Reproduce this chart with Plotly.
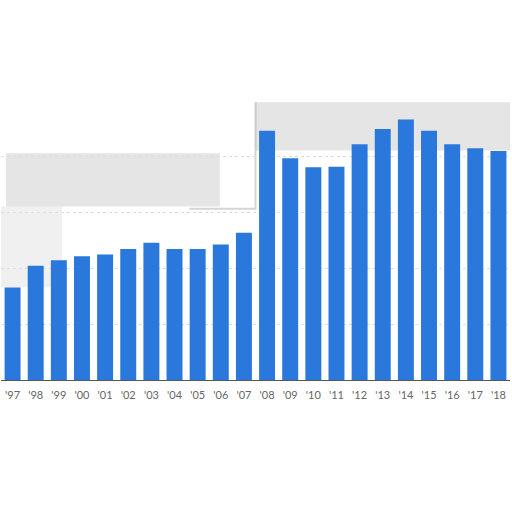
import plotly.graph_objects as go

years = ["'97", "'98", "'99", "'00", "'01", "'02", "'03", "'04", "'05", "'06", "'07",
         "'08", "'09", "'10", "'11", "'12", "'13", "'14", "'15", "'16", "'17", "'18"]
values = [16.5, 20.4, 21.4, 22.1, 22.4, 23.4, 24.5, 23.4, 23.4, 24.2, 26.3,
          44.5, 39.6, 38.0, 38.1, 42.1, 44.8, 46.5, 44.5, 42.1, 41.4, 40.9]

fig = go.Figure()
fig.add_bar(x=years, y=values, marker=dict(color="#2a78db", line=dict(width=0)))

# greyed-out blur regions behind the bars
smudge = "rgba(160,160,160,0.28)"
fig.add_shape(type="rect", xref="paper", yref="y", x0=0.01, x1=0.43, y0=31.0, y1=40.5,
              fillcolor=smudge, line=dict(width=0), layer="below")
fig.add_shape(type="rect", xref="paper", yref="y", x0=0.0, x1=0.12, y0=16.5, y1=31.0,
              fillcolor="rgba(170,170,170,0.18)", line=dict(width=0), layer="below")
fig.add_shape(type="rect", xref="paper", yref="y", x0=0.5, x1=1.0, y0=41.0, y1=49.6,
              fillcolor=smudge, line=dict(width=0), layer="below")
fig.add_shape(type="path", xref="paper", yref="y",
              path="M 0.37 30.6 L 0.5 30.6 L 0.5 49.6",
              line=dict(color="rgba(150,150,150,0.4)", width=2), layer="below")

fig.update_layout(
    width=512,
    height=512,
    margin=dict(l=1, r=2, t=100, b=132),
    paper_bgcolor="white",
    plot_bgcolor="white",
    bargap=0.31,
    showlegend=False,
    font=dict(family="Lato, Open Sans, sans-serif", size=11, color="#666666"),
)
fig.update_xaxes(showline=True, linecolor="#555555", linewidth=1, ticks="",
                 ticklabelstandoff=5, tickfont=dict(size=11, color="#666666"),
                 showgrid=False)
fig.update_yaxes(range=[0, 50], dtick=10, showticklabels=False, showgrid=True,
                 gridcolor="#dddddd", griddash="dot", zeroline=False)

fig.write_html("out.html", config={"displayModeBar": False},
               post_script="document.body.style.margin='0px';")
